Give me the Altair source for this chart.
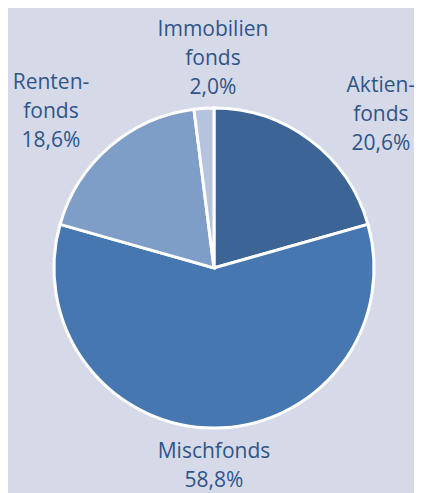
import altair as alt
import pandas as pd
import math

# --- data ---
categories = ["Aktienfonds", "Mischfonds", "Rentenfonds", "Immobilienfonds"]
label_lines = [["Aktien-", "fonds"], ["Mischfonds"], ["Renten-", "fonds"], ["Immobilien", "fonds"]]
shares = [20.6, 58.8, 18.6, 2.0]
colors = ["#3c6595", "#4777b0", "#7e9dc7", "#b5c3de"]

df = pd.DataFrame({
    "category": categories,
    "share": shares,
    "order": list(range(len(categories))),
    "label": ["\n".join(l + [f"{v:.1f}%".replace(".", ",")]) for l, v in zip(label_lines, shares)],
})

# label layout: (radius px, angular nudge rad, dx px, dy px)
label_layout = {
    "Aktienfonds": (229, 0.182, -2, -27),
    "Mischfonds": (201, 0.0, 0, -17),
    "Rentenfonds": (227, -0.091, 0, -27),
    "Immobilienfonds": (212, 0.058, 0, -26),
}

CX, CY = 206, 260
BG = "#d6d9e8"
TEXT = "#2f5689"

theta_scale = alt.Scale(domain=[0, sum(shares)], range=[0, 2 * math.pi])

base = (
    alt.Chart(df)
    .transform_window(cum="sum(share)", sort=[alt.SortField("order")], frame=[None, 0])
    .transform_calculate(start="datum.cum - datum.share", mid="datum.cum - datum.share / 2")
    .encode(x=alt.value(CX), y=alt.value(CY))
)

pie = base.mark_arc(outerRadius=160, stroke="white", strokeWidth=3).encode(
    theta=alt.Theta("start:Q", scale=theta_scale),
    theta2=alt.Theta2("cum:Q"),
    color=alt.Color("category:N", scale=alt.Scale(domain=categories, range=colors), legend=None),
)

layers = [pie]
for cat in categories:
    r, off, dx, dy = label_layout[cat]
    layers.append(
        base.transform_filter(alt.datum.category == cat)
        .mark_text(radius=r, thetaOffset=off, dx=dx, dy=dy, lineBreak="\n", lineHeight=29,
                   font="Open Sans", fontSize=21, color=TEXT, align="center", baseline="middle")
        .encode(theta=alt.Theta("mid:Q", scale=theta_scale), text="label:N")
    )

chart = alt.layer(*layers).properties(
    width=406, height=485, background=BG, padding=0, autosize="none"
).configure_view(stroke=None)

chart.save("out.html", embed_options={"renderer": "svg", "actions": False})
